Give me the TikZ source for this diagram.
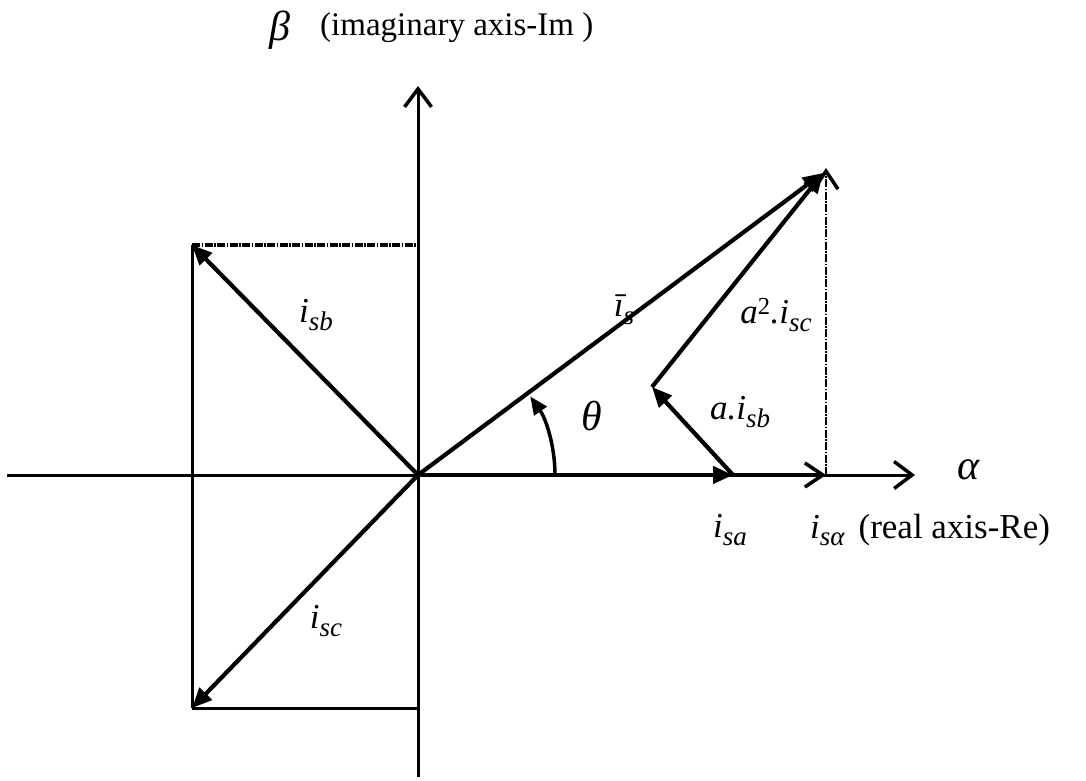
\documentclass[tikz,border=0pt]{standalone}
\usepackage{fontspec}
\setmainfont{Liberation Serif}
\usetikzlibrary{arrows.meta}
\newcommand{\lblfont}{\fontsize{35}{40}\selectfont}
\newcommand{\grk}[1]{{\fontsize{42}{46}\selectfont\itshape #1}}
\newcommand{\sbs}[1]{\raisebox{-0.22em}{\fontsize{27}{30}\selectfont\itshape #1}}
\tikzset{
  axis/.style={line width=3pt,-{Straight Barb[length=18pt,width=27pt,line width=3.5pt]}},
  vec/.style={line width=4.2pt,-{Triangle[length=20pt,width=17pt]}},
  openvec/.style={line width=4.2pt,-{Straight Barb[length=18pt,width=24pt,line width=3.5pt]}},
  frame/.style={line width=3pt},
  dashline/.style={line width=3.5pt,dash pattern=on 8pt off 1.5pt on 1.5pt off 1.5pt},
  dotline/.style={line width=2.5pt,dash pattern=on 8pt off 1.5pt on 1.5pt off 1.5pt},
  lbl/.style={inner sep=0pt,font=\lblfont}
}
\begin{document}
\begin{tikzpicture}[x=1pt,y=1pt]
\useasboundingbox (0,0) rectangle (1086,780);
% points
\coordinate (O) at (418,305);
\coordinate (L) at (7,305);
\coordinate (R) at (915,305);
\coordinate (Bot) at (418,3);
\coordinate (Top) at (418,694);
\coordinate (B) at (192,535);
\coordinate (C) at (192,72);
\coordinate (Bv) at (418,535);
\coordinate (Cv) at (418,72);
\coordinate (S) at (823,607);
\coordinate (A) at (733,305);
\coordinate (M) at (652,393);
\coordinate (P) at (826,305);
\coordinate (T) at (826,612);
% axes
\draw[axis] (L) -- (R);
\draw[axis] (Bot) -- (Top);
% frame
\draw[frame] (B) -- (C);
\draw[frame] (C) -- (Cv);
\draw[dashline] (B) -- (Bv);
\draw[dotline,-{Straight Barb[length=18pt,width=24pt,line width=3.5pt]}] (P) -- (T);
% vectors
\draw[vec] (O) -- (B);
\draw[vec] (O) -- (C);
\draw[vec] (O) -- (S);
\draw[vec] (O) -- (A);
\draw[openvec] (A) -- (P);
\draw[vec] (A) -- (M);
\draw[vec] (M) -- (S);
% angle
\draw[line width=3.5pt,-{Triangle[length=18pt,width=15pt]}] (O) ++(137,0) arc[start angle=0,end angle=35,radius=137];
% labels
\node[lbl] (beta) at (280,750) {\grk{β}};
\node[lbl,anchor=west,font=\fontsize{33}{38}\selectfont] (imlab) at (320,752) {(imaginary axis-Im )};
\node[lbl] (isb) at (316,465) {\itshape i\sbs{sb}};
\node[lbl] (is) at (624,470) {\itshape ī\sbs{s}};
\node[lbl] (a2isc) at (776,465) {\itshape a\textsuperscript{\upshape 2}.i\sbs{sc}};
\node[lbl] (theta) at (592,364) {\grk{θ}};
\node[lbl,anchor=west] (aisb) at (710,368) {\itshape a.i\sbs{sb}};
\node[lbl] (alpha) at (969,310) {\grk{α}};
\node[lbl] (isa) at (730,250) {\itshape i\sbs{sa}};
\node[lbl,anchor=west] (isalpha) at (810,250) {\itshape i\sbs{sα}\upshape\hspace{0.4em}(real axis-Re)};
\node[lbl] (isc) at (326,159) {\itshape i\sbs{sc}};
\end{tikzpicture}
\end{document}
